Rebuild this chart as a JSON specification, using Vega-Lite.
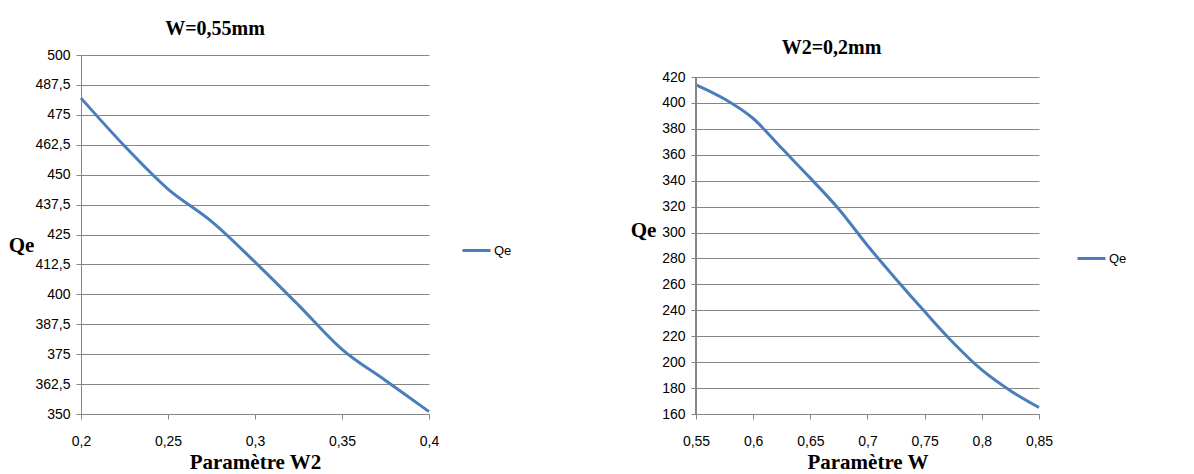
{
  "$schema": "https://vega.github.io/schema/vega-lite/v6.json",
  "background": "white",
  "padding": {"left": 8, "top": 19, "right": 5, "bottom": 0},
  "bounds": "flush",
  "spacing": 267,
  "config": {
    "view": {"stroke": null},
    "axis": {
      "labelFont": "Liberation Sans",
      "labelFontSize": 14,
      "labelColor": "#000000",
      "labelOverlap": false,
      "labelBound": false,
      "labelFlush": false,
      "domainColor": "#868686",
      "gridColor": "#868686",
      "tickColor": "#868686",
      "tickSize": 5,
      "domainWidth": 1,
      "gridWidth": 1,
      "titleFont": "Liberation Serif",
      "titleFontWeight": "bold",
      "titleFontSize": 21,
      "titleColor": "#000000"
    },
    "legend": {
      "labelFont": "Liberation Sans",
      "labelFontSize": 13,
      "labelColor": "#000000"
    }
  },
  "resolve": {"scale": {"color": "independent"}, "legend": {"color": "independent"}},
  "hconcat": [
    {
      "width": 348,
      "height": 359,
      "title": {"text": "W=0,55mm", "font": "Liberation Serif", "fontWeight": "bold", "fontSize": 20, "offset": 9, "dx": -40, "color": "#000000"},
      "data": {"values": [
        {"W2": 0.2, "Qe": 482},
        {"W2": 0.225, "Qe": 462},
        {"W2": 0.25, "Qe": 444},
        {"W2": 0.275, "Qe": 430.5},
        {"W2": 0.3, "Qe": 413.5},
        {"W2": 0.325, "Qe": 395.5},
        {"W2": 0.35, "Qe": 377},
        {"W2": 0.375, "Qe": 364},
        {"W2": 0.4, "Qe": 351}
      ]},
      "layer": [
        {
          "mark": {"type": "line", "interpolate": "monotone", "strokeWidth": 3},
          "encoding": {
            "x": {"field": "W2", "type": "quantitative",
              "scale": {"domain": [0.2, 0.4], "nice": false, "zero": false},
              "axis": {"title": "Paramètre W2", "values": [0.2, 0.25, 0.3, 0.35, 0.4], "grid": false,
                "labelExpr": "replace(toString(datum.value), '.', ',')", "labelPadding": 15, "titlePadding": 3}},
            "y": {"field": "Qe", "type": "quantitative",
              "scale": {"domain": [350, 500], "nice": false, "zero": false},
              "axis": {"title": "Qe", "values": [350, 362.5, 375, 387.5, 400, 412.5, 425, 437.5, 450, 462.5, 475, 487.5, 500],
                "grid": true, "labelExpr": "replace(toString(datum.value), '.', ',')", "labelPadding": 6,
                "titleAngle": 0, "titleX": -60, "titleY": 190, "titleAlign": "center", "titleBaseline": "middle"}},
            "color": {"datum": "Qe", "type": "nominal",
              "scale": {"range": ["#4a7ebb"]},
              "legend": {"orient": "none", "legendX": 380, "legendY": 180, "title": null,
                "symbolType": "stroke", "symbolStrokeWidth": 3, "symbolSize": 784, "labelOffset": 2}}
          }
        }
      ]
    },
    {
      "width": 343,
      "height": 359,
      "title": {"text": "W2=0,2mm", "font": "Liberation Serif", "fontWeight": "bold", "fontSize": 20, "offset": -3, "dx": -36, "color": "#000000"},
      "data": {"values": [
        {"W": 0.55, "Qe": 414},
        {"W": 0.575, "Qe": 403},
        {"W": 0.6, "Qe": 388},
        {"W": 0.625, "Qe": 365},
        {"W": 0.65, "Qe": 342},
        {"W": 0.675, "Qe": 318},
        {"W": 0.7, "Qe": 290},
        {"W": 0.725, "Qe": 264},
        {"W": 0.75, "Qe": 239},
        {"W": 0.775, "Qe": 215},
        {"W": 0.8, "Qe": 194},
        {"W": 0.825, "Qe": 178},
        {"W": 0.85, "Qe": 165}
      ]},
      "layer": [
        {
          "mark": {"type": "line", "interpolate": "monotone", "strokeWidth": 3},
          "encoding": {
            "x": {"field": "W", "type": "quantitative",
              "scale": {"domain": [0.55, 0.85], "nice": false, "zero": false},
              "axis": {"title": "Paramètre W", "values": [0.55, 0.6, 0.65, 0.7, 0.75, 0.8, 0.85], "grid": false,
                "labelExpr": "replace(toString(datum.value), '.', ',')", "labelPadding": 15, "titlePadding": 3}},
            "y": {"field": "Qe", "type": "quantitative",
              "scale": {"domain": [160, 437], "nice": false, "zero": false},
              "axis": {"title": "Qe", "values": [160, 180, 200, 220, 240, 260, 280, 300, 320, 340, 360, 380, 400, 420],
                "grid": true, "domain": false, "labelPadding": 6,
                "titleAngle": 0, "titleX": -53, "titleY": 175, "titleAlign": "center", "titleBaseline": "middle"}},
            "color": {"datum": "Qe", "type": "nominal",
              "scale": {"range": ["#4a7ebb"]},
              "legend": {"orient": "none", "legendX": 380, "legendY": 188, "title": null,
                "symbolType": "stroke", "symbolStrokeWidth": 3, "symbolSize": 784, "labelOffset": 2}}
          }
        },
        {
          "mark": {"type": "rule", "color": "#868686", "strokeWidth": 1},
          "encoding": {
            "x": {"datum": 0.55, "type": "quantitative",
              "axis": {"title": "Paramètre W", "values": [0.55, 0.6, 0.65, 0.7, 0.75, 0.8, 0.85], "grid": false,
                "labelExpr": "replace(toString(datum.value), '.', ',')", "labelPadding": 15, "titlePadding": 3}},
            "y": {"datum": 160, "type": "quantitative",
              "axis": {"title": "Qe", "values": [160, 180, 200, 220, 240, 260, 280, 300, 320, 340, 360, 380, 400, 420],
                "grid": true, "domain": false, "labelPadding": 6,
                "titleAngle": 0, "titleX": -53, "titleY": 175, "titleAlign": "center", "titleBaseline": "middle"}},
            "y2": {"datum": 420}
          }
        }
      ]
    }
  ]
}
